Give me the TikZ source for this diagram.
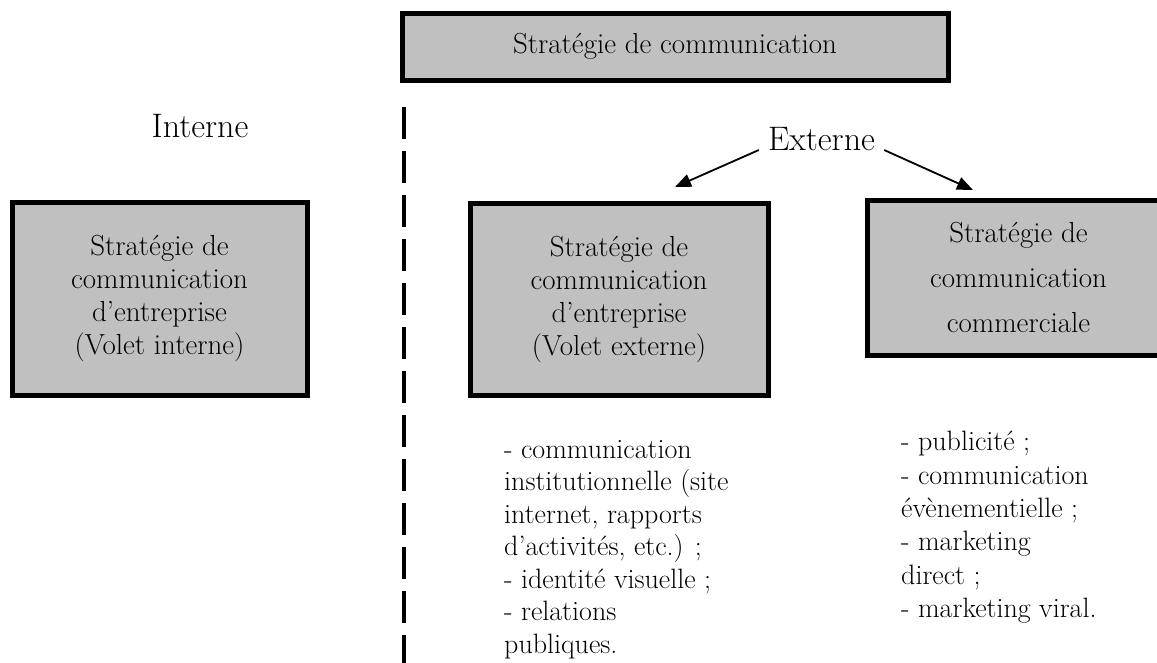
\documentclass[tikz,border=0pt]{standalone}
\usepackage{tikz}
\usetikzlibrary{arrows.meta, positioning, calc}

\definecolor{boxgray}{RGB}{192,192,192}

\tikzset{
    stratbox/.style={draw=black, line width=5pt, fill=boxgray, align=center, inner sep=0pt, font=\fontsize{29}{33}\selectfont},
    listtext/.style={align=left, inner sep=0pt, anchor=north west},
    side/.style={inner sep=9pt, anchor=base, font=\fontsize{34}{38}\selectfont},
    arr/.style={-{Triangle[length=16pt,width=13pt]}, line width=1.8pt},
    divider/.style={line width=4pt, dash pattern=on 32pt off 12pt},
}

\begin{document}
\begin{tikzpicture}[x=1pt, y=-1pt]
    \useasboundingbox (0,0) rectangle (1157,662);
    % top box
    \node[stratbox, minimum width=546pt, minimum height=67pt] (strat) at (675,46.5) {Stratégie de communication};
    % dashed divider
    \coordinate (divtop) at (404,107);
    \coordinate (divbot) at (404,668);
    \draw[divider] (divtop) -- (divbot);
    % internal side
    \node[side] (int) at (200,137) {Interne};
    \node[stratbox, minimum width=295pt, minimum height=193pt] (intbox) at (159.5,298.5) {Stratégie de\\communication\\d’entreprise\\(Volet interne)};
    % external side
    \node[side] (ext) at (821.5,150) {Externe};
    \node[stratbox, minimum width=298pt, minimum height=192pt] (extbox) at (619,299) {Stratégie de\\communication\\d’entreprise\\(Volet externe)};
    \node[stratbox, minimum width=303pt, minimum height=155pt, font=\fontsize{29}{45}\selectfont] (combox) at (1018.5,277.5) {Stratégie de\\communication\\commerciale};
    \coordinate (tipL) at (675,187);
    \coordinate (tipR) at (973,190);
    \draw[arr] (ext.base west) -- (tipL);
    \draw[arr] (ext.base east) -- (tipR);
    % lists
    \node[listtext, font=\fontsize{28}{32.5}\selectfont] (extlist) at (504,440) {- communication\\institutionnelle (site\\internet, rapports\\d’activités, etc.) ;\\- identité visuelle ;\\- relations\\publiques.};
    \node[listtext, font=\fontsize{28}{33.4}\selectfont] (comlist) at (901,431) {- publicité ;\\- communication\\évènementielle ;\\- marketing\\direct ;\\- marketing viral.};
\end{tikzpicture}
\end{document}
